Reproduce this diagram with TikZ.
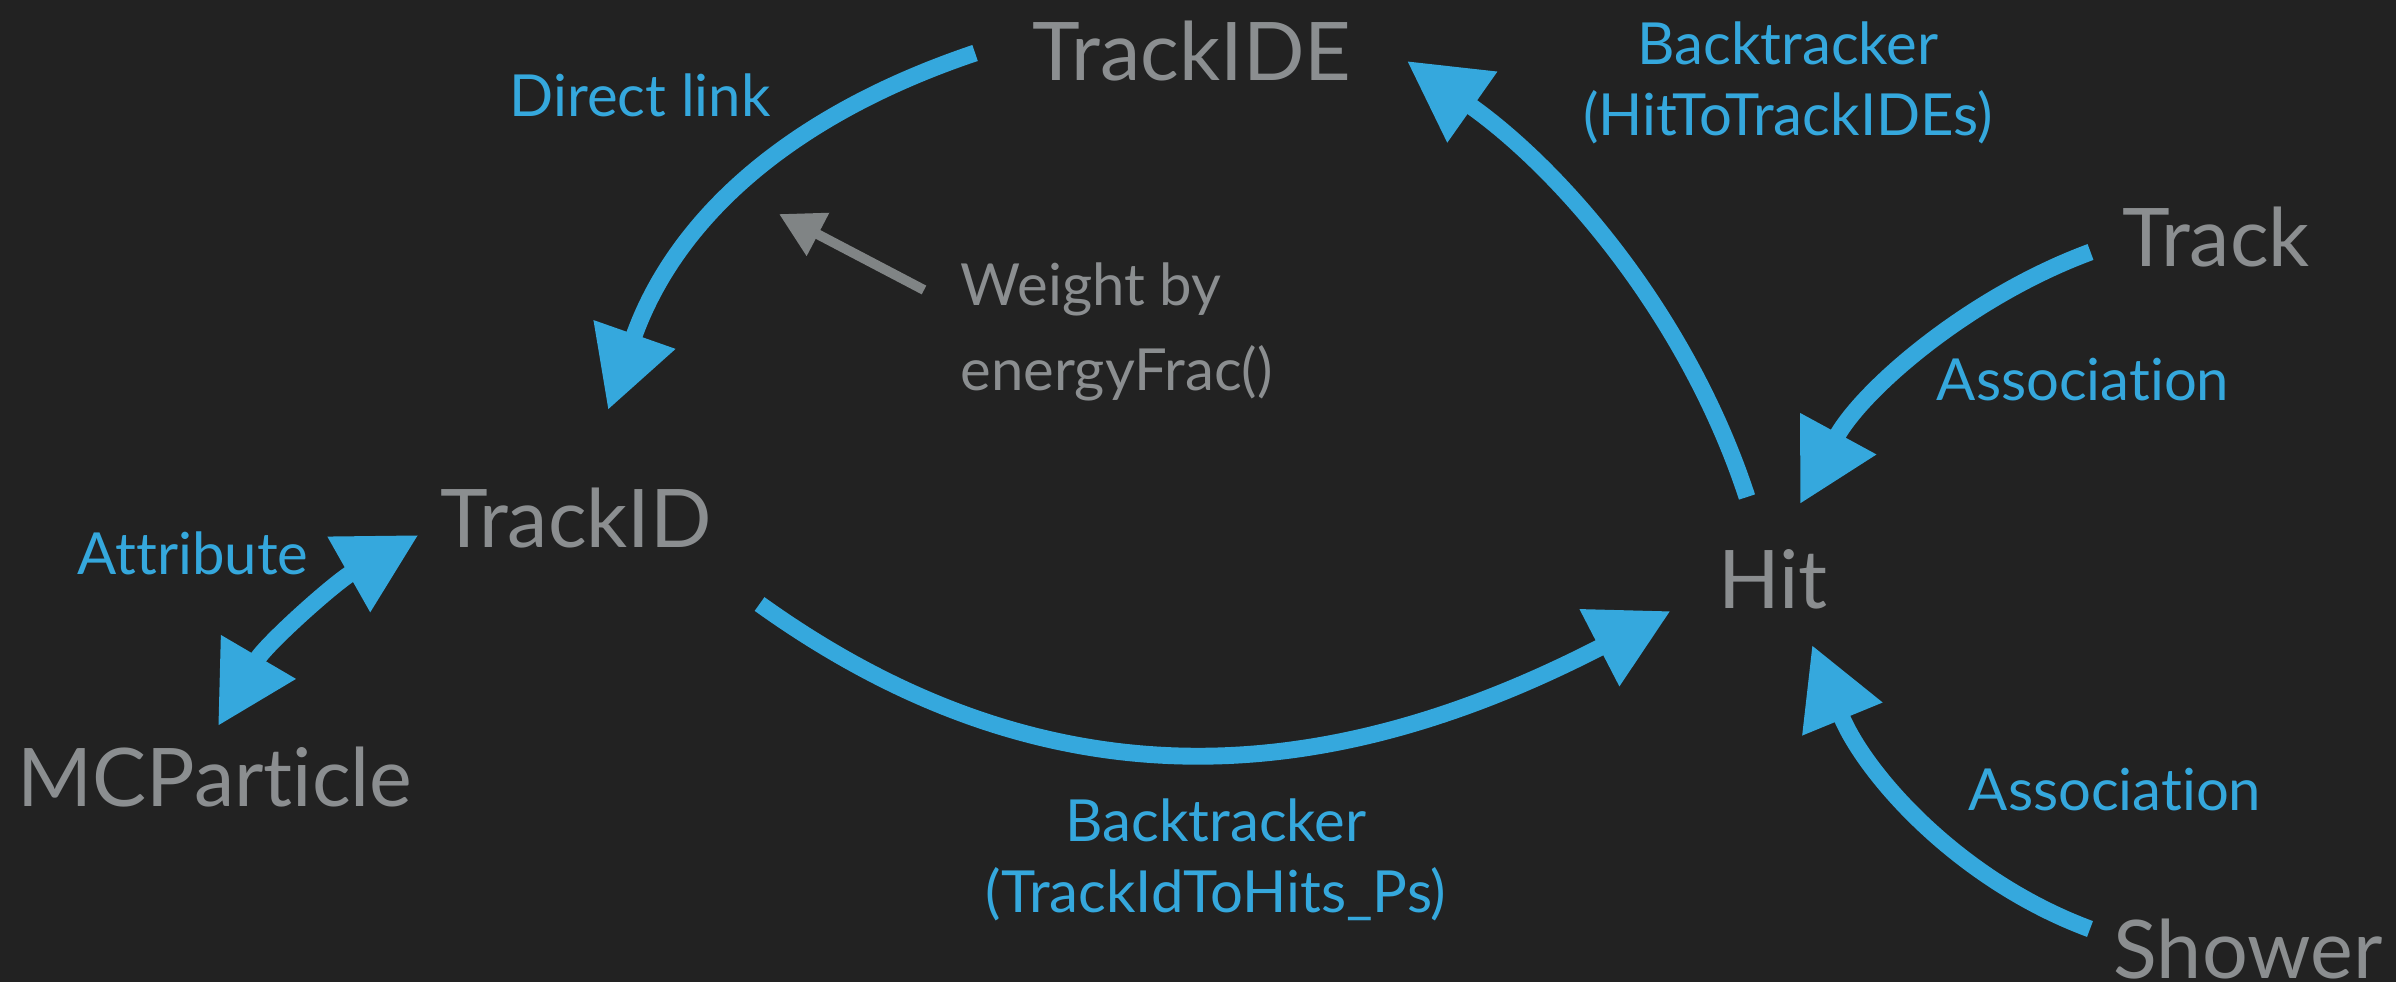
\documentclass[tikz,border=0pt]{standalone}
\usepackage{fontspec}
\setmainfont{Lato}[Ligatures=CommonOff]
\usetikzlibrary{arrows.meta}
\definecolor{bg}{HTML}{222222}
\definecolor{objgray}{HTML}{8B8E90}
\definecolor{linkblue}{HTML}{35A8DD}
\definecolor{hintgray}{HTML}{808485}
\tikzset{
  obj/.style={text=objgray, inner sep=0pt, font=\fontsize{23}{28}\selectfont},
  linktext/.style={text=linkblue, inner sep=0pt, align=center, font=\fontsize{16.5}{20}\selectfont},
  link/.style={draw=linkblue, line width=4.8pt, -{Triangle[length=0.8cm,width=0.82cm]}},
  twoway/.style={link, {Triangle[length=0.8cm,width=0.82cm]}-{Triangle[length=0.8cm,width=0.82cm]}},
  hint/.style={draw=hintgray, line width=2.8pt, -{Triangle[length=0.44cm,width=0.46cm]}},
}
\begin{document}
\begin{tikzpicture}[x=0.01cm, y=-0.01cm]
\fill[bg] (0,0) rectangle (2396,982);
\useasboundingbox (0,0) rectangle (2396,982);
% objects
\node[obj, anchor=base] (TrackIDE) at (1192,81) {TrackIDE};
\node[obj, anchor=base] (TrackID) at (576,547) {TrackID};
\node[obj, anchor=base] (Hit) at (1773,608) {Hit};
\node[obj, anchor=base] (Track) at (2216,267) {Track};
\node[obj, anchor=base] (MCParticle) at (215,806) {MCParticle};
\node[obj, anchor=base west] (Shower) at (2113,978) {Shower};
% labels
\node[linktext, anchor=base] (directTxt) at (640,117) {Direct link};
\node[linktext] (hitToIDETxt) at (1788,83) {Backtracker\\(HitToTrackIDEs)};
\node[linktext, anchor=base] (trackAssocTxt) at (2083,400) {Association};
\node[linktext, anchor=base] (attrTxt) at (193,574) {Attribute};
\node[linktext, anchor=base] (showerAssocTxt) at (2115,810) {Association};
\node[linktext] (idToHitsTxt) at (1216,860) {Backtracker\\(TrackIdToHits\_Ps)};
\node[linktext, text=objgray, align=left, anchor=west,
  font=\fontsize{16.5}{24}\selectfont] (weightTxt) at (960,332) {Weight by\\energyFrac()};
\coordinate (weightTip) at (779,214);
% connectors
\draw[link] ([shift={(-57,-28)}]TrackIDE.base west) .. controls +(-190,64) and +(66,-188) .. ([shift={(32,-137)}]TrackID.base);
\draw[link] ([shift={(-26,-111)}]Hit.base) .. controls +(-59,-180) and +(156,110) .. ([shift={(55,-20)}]TrackIDE.base east);
\draw[link] ([shift={(-31,-15)}]Track.base west) .. controls +(-122,45) and +(62,-114) .. ([shift={(27,-104)}]Hit.base);
\draw[link] ([shift={(-23,-49)}]Shower.base west) .. controls +(-132,-49) and +(53,129) .. ([shift={(39,37)}]Hit.base);
\draw[link] ([shift={(47,57)}]TrackID.base east) .. controls +(300,215) and +(-329,170) .. ([shift={(-47,3)}]Hit.base west);
\draw[twoway] ([shift={(3,-80)}]MCParticle.base) .. controls +(48,-82) and +(-83,47) .. ([shift={(-21,-12)}]TrackID.base west);
\draw[hint] ([shift={(-36,-42)}]weightTxt.west) -- (weightTip);
\end{tikzpicture}
\end{document}
